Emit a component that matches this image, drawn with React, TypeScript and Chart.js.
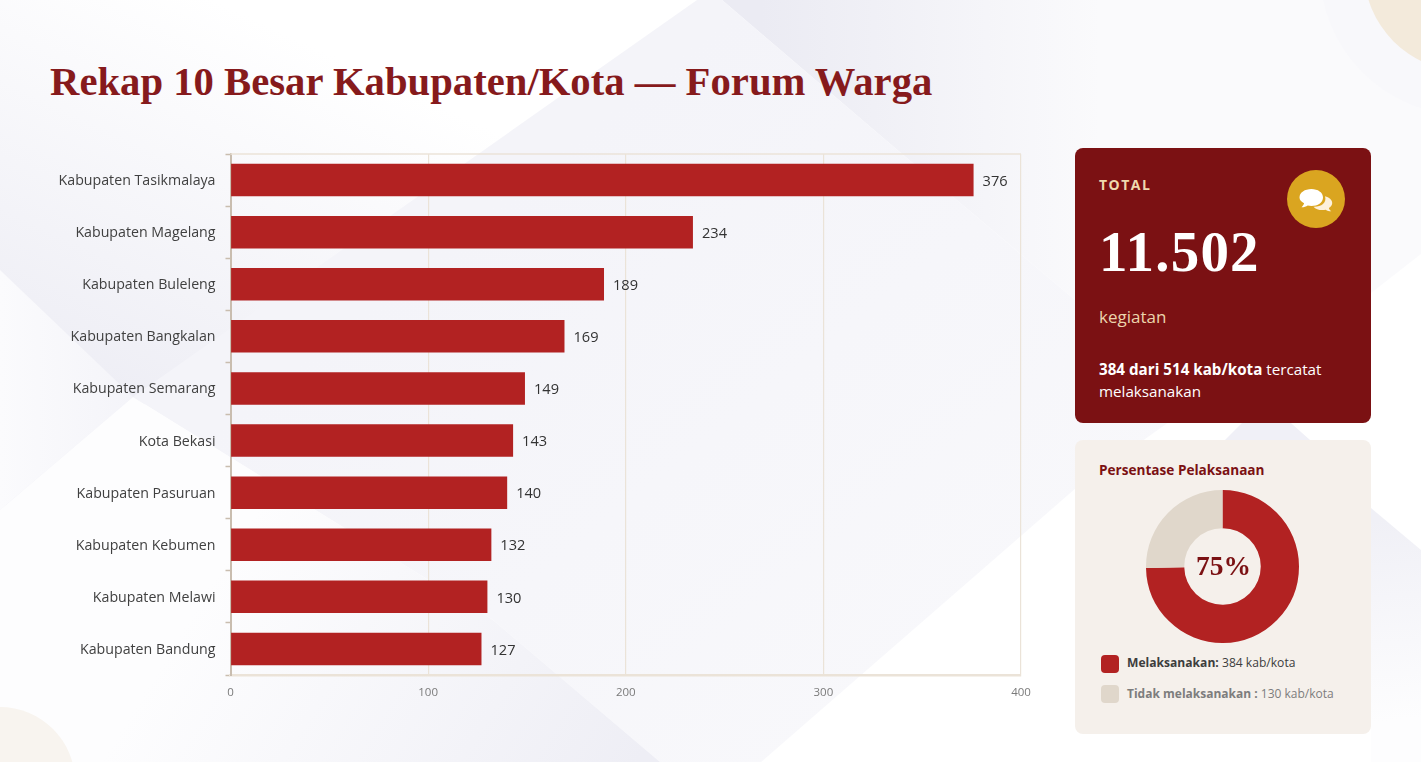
import React, { useEffect, useRef } from 'react';
import { Chart, registerables } from 'chart.js';

Chart.register(...registerables);

const kabupaten = [
  'Kabupaten Tasikmalaya',
  'Kabupaten Magelang',
  'Kabupaten Buleleng',
  'Kabupaten Bangkalan',
  'Kabupaten Semarang',
  'Kota Bekasi',
  'Kabupaten Pasuruan',
  'Kabupaten Kebumen',
  'Kabupaten Melawi',
  'Kabupaten Bandung',
];
const kegiatan = [376, 234, 189, 169, 149, 143, 140, 132, 130, 127];
const statusLabels = ['Melaksanakan', 'Tidak melaksanakan'];
const statusValues = [384, 130];

const RED = '#b22222';
const DARK = '#7b1113';
const BEIGE = '#e0d7cb';
const LINE = '#ebe3d8';
const SANS = '"Open Sans", sans-serif';
const SERIF = '"Liberation Serif", serif';

// value at the end of each bar + frame on top of the plot
const barExtras = {
  id: 'barExtras',
  beforeDatasetsDraw(chart: any) {
    const { ctx, chartArea } = chart;
    ctx.save();
    ctx.strokeStyle = LINE;
    ctx.lineWidth = 1.5;
    ctx.beginPath();
    ctx.moveTo(chartArea.left, chartArea.top);
    ctx.lineTo(chartArea.right, chartArea.top);
    ctx.stroke();
    ctx.restore();
  },
  afterDatasetsDraw(chart: any) {
    const { ctx } = chart;
    ctx.save();
    ctx.font = `14.6px ${SANS}`;
    ctx.fillStyle = '#333333';
    ctx.textAlign = 'left';
    ctx.textBaseline = 'middle';
    chart.getDatasetMeta(0).data.forEach((bar: any, i: number) => {
      ctx.fillText(String(kegiatan[i]), bar.x + 9, bar.y + 1.5);
    });
    ctx.restore();
  },
};

const BarChart = () => {
  const canvasRef = useRef<HTMLCanvasElement>(null);

  useEffect(() => {
    if (!canvasRef.current) return;
    const chart = new Chart(canvasRef.current, {
      type: 'bar',
      data: {
        labels: kabupaten,
        datasets: [
          {
            data: kegiatan,
            backgroundColor: RED,
            barPercentage: 0.624,
            categoryPercentage: 1,
          },
        ],
      },
      options: {
        indexAxis: 'y',
        responsive: false,
        animation: false,
        layout: { padding: { top: 14, right: 39, left: 0, bottom: 0 } },
        plugins: { legend: { display: false }, tooltip: { enabled: false } },
        scales: {
          x: {
            min: 0,
            max: 400,
            afterFit: (scale: any) => {
              scale.height = 35;
            },
            grid: { color: LINE, lineWidth: 1.2, drawTicks: false },
            border: { color: LINE, width: 2.5 },
            ticks: {
              stepSize: 100,
              padding: 11,
              color: '#7a7a7a',
              font: { family: SANS, size: 11.5 },
            },
          },
          y: {
            afterFit: (scale: any) => {
              scale.width = 230.5;
              scale.paddingTop = 0;
              scale.paddingBottom = 0;
            },
            grid: { drawOnChartArea: false, tickLength: 5, tickColor: '#c9bdaf', tickWidth: 1.5 },
            border: { color: '#c9bdaf', width: 2 },
            ticks: {
              padding: 10,
              labelOffset: 1,
              color: '#404040',
              font: { family: SANS, size: 14.2 },
            },
          },
        },
      },
      plugins: [barExtras],
    } as any);
    return () => {
      chart.destroy();
    };
  }, []);

  return (
    <canvas
      ref={canvasRef}
      width={1060}
      height={570}
      style={{ position: 'absolute', left: 0, top: 140, width: 1060, height: 570 }}
    />
  );
};

const DonutChart = () => {
  const canvasRef = useRef<HTMLCanvasElement>(null);

  useEffect(() => {
    if (!canvasRef.current) return;
    const chart = new Chart(canvasRef.current, {
      type: 'doughnut',
      data: {
        labels: statusLabels,
        datasets: [{ data: statusValues, backgroundColor: [RED, BEIGE], borderWidth: 0 }],
      },
      options: {
        responsive: false,
        animation: false,
        cutout: '50%',
        plugins: { legend: { display: false }, tooltip: { enabled: false } },
      },
    } as any);
    return () => {
      chart.destroy();
    };
  }, []);

  return (
    <canvas
      ref={canvasRef}
      width={153}
      height={153}
      style={{ position: 'absolute', left: 1146, top: 490, width: 153, height: 153 }}
    />
  );
};

const Background = () => (
  <svg width={1421} height={762} style={{ position: 'absolute', left: 0, top: 0 }}>
    <defs>
      <linearGradient id="tl" gradientUnits="userSpaceOnUse" x1="300" y1="40" x2="133" y2="397">
        <stop offset="0" stopColor="#ffffff" />
        <stop offset="1" stopColor="#eeeef5" />
      </linearGradient>
      <linearGradient id="mid" gradientUnits="userSpaceOnUse" x1="500" y1="200" x2="900" y2="700">
        <stop offset="0" stopColor="#f4f4f9" />
        <stop offset="1" stopColor="#f8f8fb" />
      </linearGradient>
      <linearGradient id="tr" gradientUnits="userSpaceOnUse" x1="760" y1="60" x2="1100" y2="60">
        <stop offset="0" stopColor="#ebebf3" />
        <stop offset="1" stopColor="#fafafc" />
      </linearGradient>
      <linearGradient id="low" gradientUnits="userSpaceOnUse" x1="250" y1="520" x2="640" y2="760">
        <stop offset="0" stopColor="#fdfdfe" />
        <stop offset="1" stopColor="#eeeef5" />
      </linearGradient>
      <linearGradient id="left" gradientUnits="userSpaceOnUse" x1="0" y1="390" x2="133" y2="390">
        <stop offset="0" stopColor="#fbfbfd" />
        <stop offset="1" stopColor="#f4f4f9" />
      </linearGradient>
      <linearGradient id="rgt" gradientUnits="userSpaceOnUse" x1="1380" y1="520" x2="1400" y2="720">
        <stop offset="0" stopColor="#f0f0f6" />
        <stop offset="1" stopColor="#fdfdfe" />
      </linearGradient>
    </defs>
    <rect width={1421} height={762} fill="#ffffff" />
    <polygon points="0,0 697,0 0,510" fill="url(#tl)" />
    <polygon points="722,0 1421,0 1421,254 1371,293 1200,400 1075,300 895,148" fill="url(#tr)" />
    <polygon points="697,0 722,0 895,148 1075,300 1200,400 1076,488 761,762 660,762 493,620 133,397" fill="url(#mid)" />
    <polygon points="0,270 133,397 0,510" fill="url(#left)" />
    <polygon points="0,510 133,397 493,620 660,762 0,762" fill="url(#low)" />
    <polygon points="1371,508 1421,550 1421,762 1371,762" fill="url(#rgt)" />
    <polygon points="1225,440 1265,400 1310,440" fill="#f0f0f7" />
    <circle cx={1465} cy={-30} r={145} fill="#f8f8fb" />
    <circle cx={1465} cy={-30} r={101} fill="#f3eadb" />
    <circle cx={0} cy={782} r={75} fill="#f8f4ef" />
  </svg>
);

const Text = ({ x, y, size, color, font = SANS, weight = 400, spacing = 0, children }: any) => (
  <div
    style={{
      position: 'absolute',
      left: x,
      top: y,
      fontFamily: font,
      fontSize: size,
      fontWeight: weight,
      color,
      letterSpacing: spacing,
      lineHeight: '22px',
      whiteSpace: 'nowrap',
    }}
  >
    {children}
  </div>
);

export default function App() {
  useEffect(() => {
    document.body.style.margin = '0';
  }, []);

  return (
    <div style={{ position: 'relative', width: 1421, height: 762, overflow: 'hidden' }}>
      <Background />
      <Text x={50} y={71} size={40.7} color="#861a1c" font={SERIF} weight={700}>
        Rekap 10 Besar Kabupaten/Kota — Forum Warga
      </Text>
      <BarChart />

      <div style={{ position: 'absolute', left: 1075, top: 147.5, width: 296, height: 275.5, background: DARK, borderRadius: 8 }} />
      <Text x={1099} y={174} size={14} color="#efd9ae" weight={700} spacing={1.5}>
        TOTAL
      </Text>
      <svg width={58} height={58} viewBox="0 0 58 58" style={{ position: 'absolute', left: 1286.5, top: 169.5 }}>
        <circle cx={29} cy={29} r={29} fill="#daa520" />
        <path d="M36 27.5c0 5.2-5.3 8.5-11.5 8.5-1.3 0-2.6-.2-3.8-.5-1.6 1.1-3.6 1.8-6.2 1.8 1.4-1.3 2.2-2.6 2.6-4-2.8-1.5-4.6-3.4-4.6-5.8 0-5 5.4-8.5 11.9-8.5S36 22.5 36 27.5z" fill="#ffffff" />
        <path d="M38 26.2c4 1.1 7.2 3.4 7.2 6.7 0 2-1.2 3.7-3.3 5 .3 1.2 1 2.3 2.4 3.4-2.4 0-4.1-.6-5.6-1.6-1 .2-2.1.4-3.2.4-3.8 0-7.2-1.3-9-3.4 7 .4 13.7-3.7 11.5-10.5z" fill="#fdf1dc" />
      </svg>
      <Text x={1099} y={241} size={57} color="#ffffff" font={SERIF} weight={700} spacing={1.2}>
        11.502
      </Text>
      <Text x={1099} y={306} size={17} color="#ecd5ad">
        kegiatan
      </Text>
      <Text x={1099} y={358} size={15.2} color="#ffffff">
        <b>384 dari 514 kab/kota</b> tercatat
      </Text>
      <Text x={1099} y={380} size={15.2} color="#ffffff">
        melaksanakan
      </Text>

      <div style={{ position: 'absolute', left: 1075, top: 440, width: 296, height: 294, background: '#f5f0eb', borderRadius: 8 }} />
      <Text x={1099} y={459} size={13.6} color={DARK} weight={700}>
        Persentase Pelaksanaan
      </Text>
      <DonutChart />
      <Text x={1196} y={555} size={27.5} color={DARK} font={SERIF} weight={700}>
        75%
      </Text>
      <div style={{ position: 'absolute', left: 1101, top: 655, width: 18, height: 18, background: RED, borderRadius: 4 }} />
      <Text x={1127} y={652} size={12.1} color="#3d3d3d">
        <b>Melaksanakan:</b> 384 kab/kota
      </Text>
      <div style={{ position: 'absolute', left: 1101, top: 685, width: 18, height: 18, background: BEIGE, borderRadius: 4 }} />
      <Text x={1127} y={683} size={12} color="#7d7d7d">
        <b>Tidak melaksanakan :</b> 130 kab/kota
      </Text>
    </div>
  );
}
